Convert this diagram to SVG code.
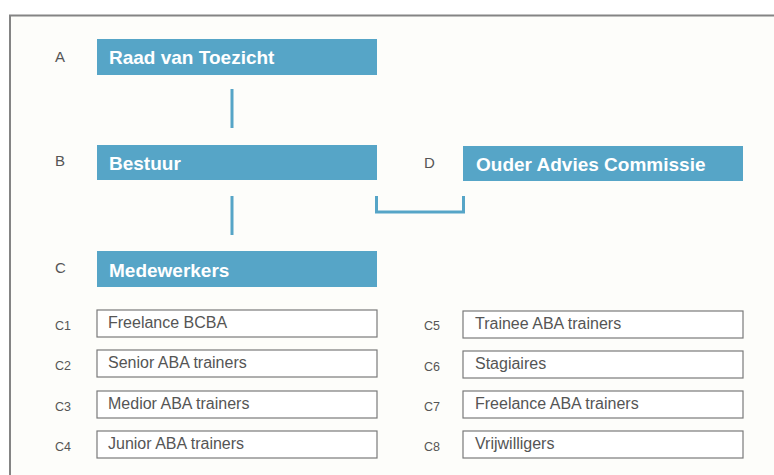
<svg xmlns="http://www.w3.org/2000/svg" width="774" height="475" viewBox="0 0 774 475">
<style>
.main{fill:#56a5c7}
.mt{font-family:"Liberation Sans",Arial,sans-serif;font-weight:bold;font-size:19px;fill:#ffffff}
.lab{font-family:"Liberation Sans",Arial,sans-serif;font-size:15px;fill:#555555}
.slab{font-family:"Liberation Sans",Arial,sans-serif;font-size:12.5px;fill:#555555}
.sub{fill:#ffffff;stroke:#7a7a7a;stroke-width:1.2}
.st{font-family:"Liberation Sans",Arial,sans-serif;font-size:16px;fill:#555555}
.con{fill:none;stroke:#56a5c7;stroke-width:3}
</style>
<rect width="774" height="475" fill="#ffffff"/>
<rect x="10" y="15.5" width="780" height="480" fill="#fdfdfa" stroke="#848484" stroke-width="2"/>
<g id="connectors">
<line class="con" x1="232" y1="89" x2="232" y2="128"/>
<line class="con" x1="232" y1="196" x2="232" y2="235"/>
<path class="con" d="M376.5 196 V212 H463.5 V196"/>
</g>
<g id="A"><text class="lab" x="55" y="62">A</text><rect class="main" x="97" y="39" width="280" height="36"/><text class="mt" x="109" y="64">Raad van Toezicht</text></g>
<g id="B"><text class="lab" x="55" y="166">B</text><rect class="main" x="97" y="145" width="280" height="35"/><text class="mt" x="109" y="170">Bestuur</text></g>
<g id="C"><text class="lab" x="55" y="273">C</text><rect class="main" x="97" y="251" width="280" height="36"/><text class="mt" x="109" y="277">Medewerkers</text></g>
<g id="D"><text class="lab" x="424" y="168">D</text><rect class="main" x="463" y="146" width="280" height="35"/><text class="mt" x="476" y="171">Ouder Advies Commissie</text></g>
<g id="C1"><text class="slab" x="55" y="330">C1</text><rect class="sub" x="97" y="310" width="280" height="27"/><text class="st" x="108" y="328">Freelance BCBA</text></g>
<g id="C2"><text class="slab" x="55" y="370">C2</text><rect class="sub" x="97" y="350" width="280" height="27"/><text class="st" x="108" y="368">Senior ABA trainers</text></g>
<g id="C3"><text class="slab" x="55" y="411">C3</text><rect class="sub" x="97" y="391" width="280" height="27"/><text class="st" x="108" y="409">Medior ABA trainers</text></g>
<g id="C4"><text class="slab" x="55" y="451">C4</text><rect class="sub" x="97" y="431" width="280" height="27"/><text class="st" x="108" y="449">Junior ABA trainers</text></g>
<g id="C5"><text class="slab" x="424" y="330">C5</text><rect class="sub" x="463" y="311" width="280" height="27"/><text class="st" x="475" y="329">Trainee ABA trainers</text></g>
<g id="C6"><text class="slab" x="424" y="371">C6</text><rect class="sub" x="463" y="351" width="280" height="27"/><text class="st" x="475" y="369">Stagiaires</text></g>
<g id="C7"><text class="slab" x="424" y="411">C7</text><rect class="sub" x="463" y="391" width="280" height="27"/><text class="st" x="475" y="409">Freelance ABA trainers</text></g>
<g id="C8"><text class="slab" x="424" y="451">C8</text><rect class="sub" x="463" y="431" width="280" height="27"/><text class="st" x="475" y="449">Vrijwilligers</text></g>
</svg>
